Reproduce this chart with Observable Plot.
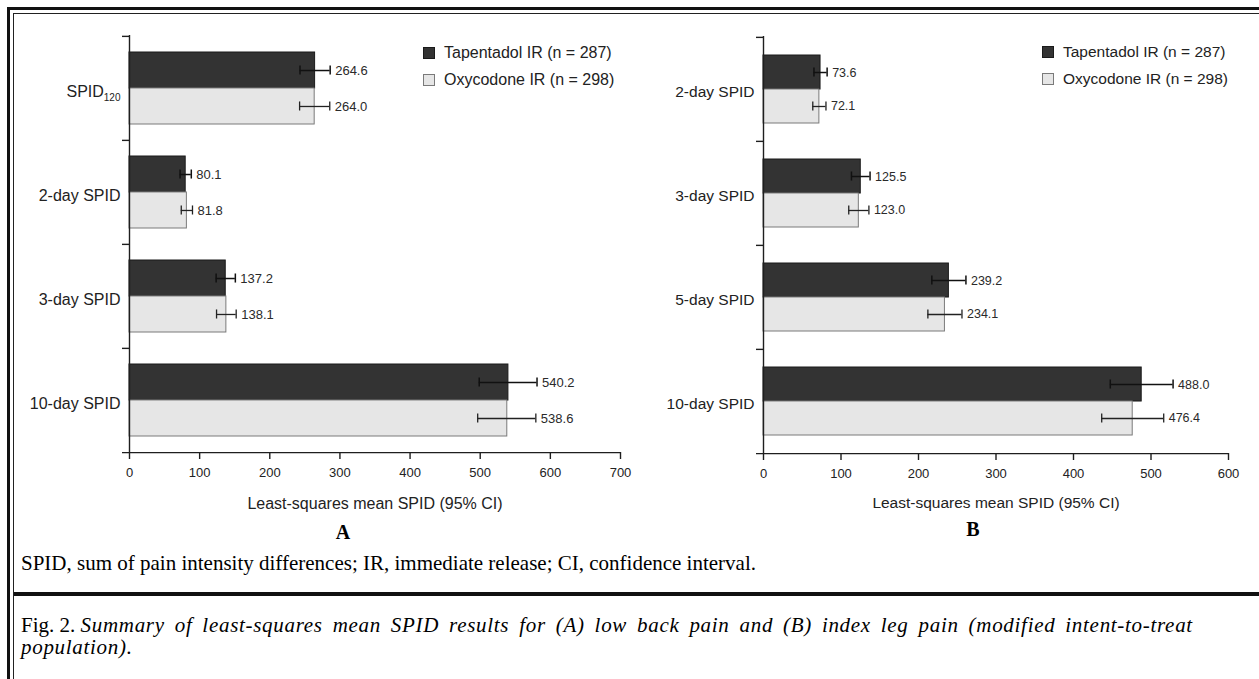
<!DOCTYPE html>
<html>
<head>
<meta charset="utf-8">
<script src="https://cdn.jsdelivr.net/npm/d3@7"></script>
<script src="https://cdn.jsdelivr.net/npm/@observablehq/plot@0.6"></script>
<style>
  html, body { margin: 0; padding: 0; background: #fff; }
  body { width: 1259px; height: 679px; position: relative; overflow: hidden;
         font-family: "Liberation Sans", Arial, Helvetica, sans-serif; }
  .abs { position: absolute; }
  #frameOuter { left: 7px; top: 7px; width: 1300px; height: 700px;
                border-left: 3.5px solid #111; border-top: 3.5px solid #111; }
  #frameInner { left: 12.5px; top: 12.5px; width: 1300px; height: 700px;
                border-left: 1.5px solid #222; border-top: 1.5px solid #222; }
  #sep { left: 14px; top: 592px; width: 1300px; height: 3.5px; background: #111; }
  .legend { color: #222; }
  .legend .row { position: absolute; left: 0; white-space: nowrap; display: flex; align-items: center; }
  .legend .sw { width: 12px; height: 12px; box-sizing: border-box; margin-right: 9px; }
  .serif { font-family: "Liberation Serif", "Times New Roman", serif; color: #000; white-space: nowrap; }
  #note { left: 21px; top: 552px; font-size: 21px; line-height: 22px; }
  #fig { left: 21px; top: 614px; font-size: 21px; line-height: 22px; }
  #fig i { word-spacing: 4px; letter-spacing: 0.7px; }
</style>
</head>
<body>
<div id="frameOuter" class="abs"></div>
<div id="frameInner" class="abs"></div>
<div id="panelA" class="abs" style="left:0px;top:0px"></div>
<div id="panelB" class="abs" style="left:640px;top:0px"></div>
<div id="legendA" class="abs legend" style="left:423px;top:44px;font-size:16px"></div>
<div id="legendB" class="abs legend" style="left:1042px;top:43px;font-size:15.5px"></div>
<div id="note" class="abs serif">SPID, sum of pain intensity differences; IR, immediate release; CI, confidence interval.</div>
<div id="sep" class="abs"></div>
<div id="fig" class="abs serif">Fig. 2. <i>Summary of least-squares mean SPID results for (A) low back pain and (B) index leg pain (modified intent-to-treat</i><br><i>population).</i></div>
<script>
// ---------- data ----------
const series = ["Tapentadol IR (n = 287)", "Oxycodone IR (n = 298)"];
const seriesFill = ["#333333", "#e6e6e6"];
const seriesStroke = ["#1a1a1a", "#7a7a7a"];
const axisTitle = "Least-squares mean SPID (95% CI)";

// Panel A: low back pain
const catsA = ["SPID120", "2-day SPID", "3-day SPID", "10-day SPID"];
const tapA = [264.6, 80.1, 137.2, 540.2];
const tapALo = [243.1, 72.1, 123.5, 498.6];
const tapAHi = [286.1, 88.1, 150.9, 581.0];
const oxyA = [264.0, 81.8, 138.1, 538.6];
const oxyALo = [242.5, 73.8, 124.1, 496.4];
const oxyAHi = [285.5, 89.8, 152.1, 579.3];
const xTicksA = [0, 100, 200, 300, 400, 500, 600, 700];

// Panel B: index leg pain
const catsB = ["2-day SPID", "3-day SPID", "5-day SPID", "10-day SPID"];
const tapB = [73.6, 125.5, 239.2, 488.0];
const tapBLo = [65.1, 113.5, 217.2, 447.5];
const tapBHi = [82.1, 137.5, 261.2, 528.5];
const oxyB = [72.1, 123.0, 234.1, 476.4];
const oxyBLo = [63.6, 110.0, 212.1, 436.4];
const oxyBHi = [80.6, 136.0, 256.1, 516.4];
const xTicksB = [0, 100, 200, 300, 400, 500, 600];

// ---------- drawing ----------
function panel(o) {
  const rows = (vals, lo, hi, s) => o.cats.map((c, i) => ({cat: c, series: s, v: vals[i], lo: lo[i], hi: hi[i]}));
  const T = rows(o.tap, o.tapLo, o.tapHi, series[0]);
  const O = rows(o.oxy, o.oxyLo, o.oxyHi, series[1]);
  const step = (o.height - o.mt - o.mb) / o.cats.length;
  const bw = step * (1 - o.pad);
  const half = bw / 2, q = bw / 4, cap = 4.5;
  const ink = "#1e1e1e";
  const chart = Plot.plot({
    width: o.width, height: o.height,
    marginTop: o.mt, marginBottom: o.mb, marginLeft: o.ml, marginRight: o.mr,
    style: {fontFamily: '"Liberation Sans", Arial, Helvetica, sans-serif', fontSize: "13px", color: "#222", background: "transparent", overflow: "visible"},
    x: {domain: [0, o.xMax], label: null, axis: null},
    y: {domain: o.cats, paddingInner: o.pad, paddingOuter: o.pad / 2, label: null, axis: null},
    marks: [
      Plot.barX(T, {x: "v", y: "cat", fill: seriesFill[0], stroke: seriesStroke[0], strokeWidth: 1, insetBottom: half}),
      Plot.barX(O, {x: "v", y: "cat", fill: seriesFill[1], stroke: seriesStroke[1], strokeWidth: 1, insetTop: half}),
      Plot.ruleY(T, {y: "cat", x1: "lo", x2: "hi", dy: -q, stroke: "#111", strokeWidth: 1.5}),
      Plot.ruleY(O, {y: "cat", x1: "lo", x2: "hi", dy: q, stroke: "#222", strokeWidth: 1.3}),
      Plot.tickX(T, {x: "lo", y: "cat", insetTop: q - cap, insetBottom: bw - q - cap, stroke: "#111", strokeWidth: 1.5}),
      Plot.tickX(T, {x: "hi", y: "cat", insetTop: q - cap, insetBottom: bw - q - cap, stroke: "#111", strokeWidth: 1.5}),
      Plot.tickX(O, {x: "lo", y: "cat", insetTop: bw - q - cap, insetBottom: q - cap, stroke: "#222", strokeWidth: 1.3}),
      Plot.tickX(O, {x: "hi", y: "cat", insetTop: bw - q - cap, insetBottom: q - cap, stroke: "#222", strokeWidth: 1.3}),
      Plot.text(T, {x: "hi", y: "cat", text: d => d.v.toFixed(1), dx: 5, dy: -q, textAnchor: "start", fontSize: o.valFs, fill: "#2a2a2a"}),
      Plot.text(O, {x: "hi", y: "cat", text: d => d.v.toFixed(1), dx: 5, dy: q, textAnchor: "start", fontSize: o.valFs, fill: "#2a2a2a"}),
      // axis lines
      Plot.ruleX([0], {stroke: ink, strokeWidth: 1.4}),
      Plot.ruleY([o.cats[o.cats.length - 1]], {dy: step / 2, insetLeft: -7, stroke: ink, strokeWidth: 1.4}),
      // y boundary ticks and category labels
      Plot.axisY({ticks: o.cats, tickSize: 7, tickFormat: () => "", dy: -step / 2, stroke: ink, strokeWidth: 1.4}),
      Plot.axisY({ticks: o.cats, tickSize: 0, tickPadding: 9, dy: 3, fontSize: o.labFs, fill: "#222"}),
      // x axis
      Plot.axisX({ticks: o.xTicks, tickSize: 7, tickPadding: 8, fontSize: 13, label: null, stroke: ink, strokeWidth: 1.4, fill: "#222"}),
      Plot.text([axisTitle], {frameAnchor: "bottom", dy: o.titleDy, fontSize: o.titleFs, fill: "#222"}),
      Plot.text([o.letter], {frameAnchor: "bottom", dy: o.letterDy, dx: o.letterDx, fontSize: 20, fontWeight: "bold", fontFamily: '"Liberation Serif", "Times New Roman", serif', fill: "#000"})
    ]
  });
  // subscript for SPID120
  d3.select(chart).selectAll("text").filter(function () { return this.textContent === "SPID120"; })
    .each(function () {
      const t = d3.select(this);
      t.text("");
      t.append("tspan").text("SPID");
      t.append("tspan").attr("font-size", "10px").attr("dy", "4").text("120");
    });
  return chart;
}

document.getElementById("panelA").append(panel({
  cats: catsA, tap: tapA, tapLo: tapALo, tapHi: tapAHi, oxy: oxyA, oxyLo: oxyALo, oxyHi: oxyAHi,
  xMax: 700, xTicks: xTicksA, width: 640, height: 560, mt: 35, mb: 108, ml: 129, mr: 20, pad: 0.31,
  valFs: 13, labFs: 16, titleFs: 16, titleDy: 56, letter: "A", letterDy: 86, letterDx: -32
}));
document.getElementById("panelB").append(panel({
  cats: catsB, tap: tapB, tapLo: tapBLo, tapHi: tapBHi, oxy: oxyB, oxyLo: oxyBLo, oxyHi: oxyBHi,
  xMax: 600, xTicks: xTicksB, width: 619, height: 560, mt: 36, mb: 107, ml: 123, mr: 31, pad: 0.348,
  valFs: 12.5, labFs: 15.5, titleFs: 15.5, titleDy: 54, letter: "B", letterDy: 82, letterDx: -23
}));

// legends
function legend(id, gap) {
  const el = document.getElementById(id);
  series.forEach((s, i) => {
    const row = document.createElement("div");
    row.className = "row";
    row.style.top = (i * gap) + "px";
    const sw = document.createElement("span");
    sw.className = "sw";
    sw.style.background = seriesFill[i];
    sw.style.border = "1px solid " + seriesStroke[i];
    const tx = document.createElement("span");
    tx.textContent = s;
    row.append(sw, tx);
    el.append(row);
  });
}
legend("legendA", 27);
legend("legendB", 27);
</script>
</body>
</html>
